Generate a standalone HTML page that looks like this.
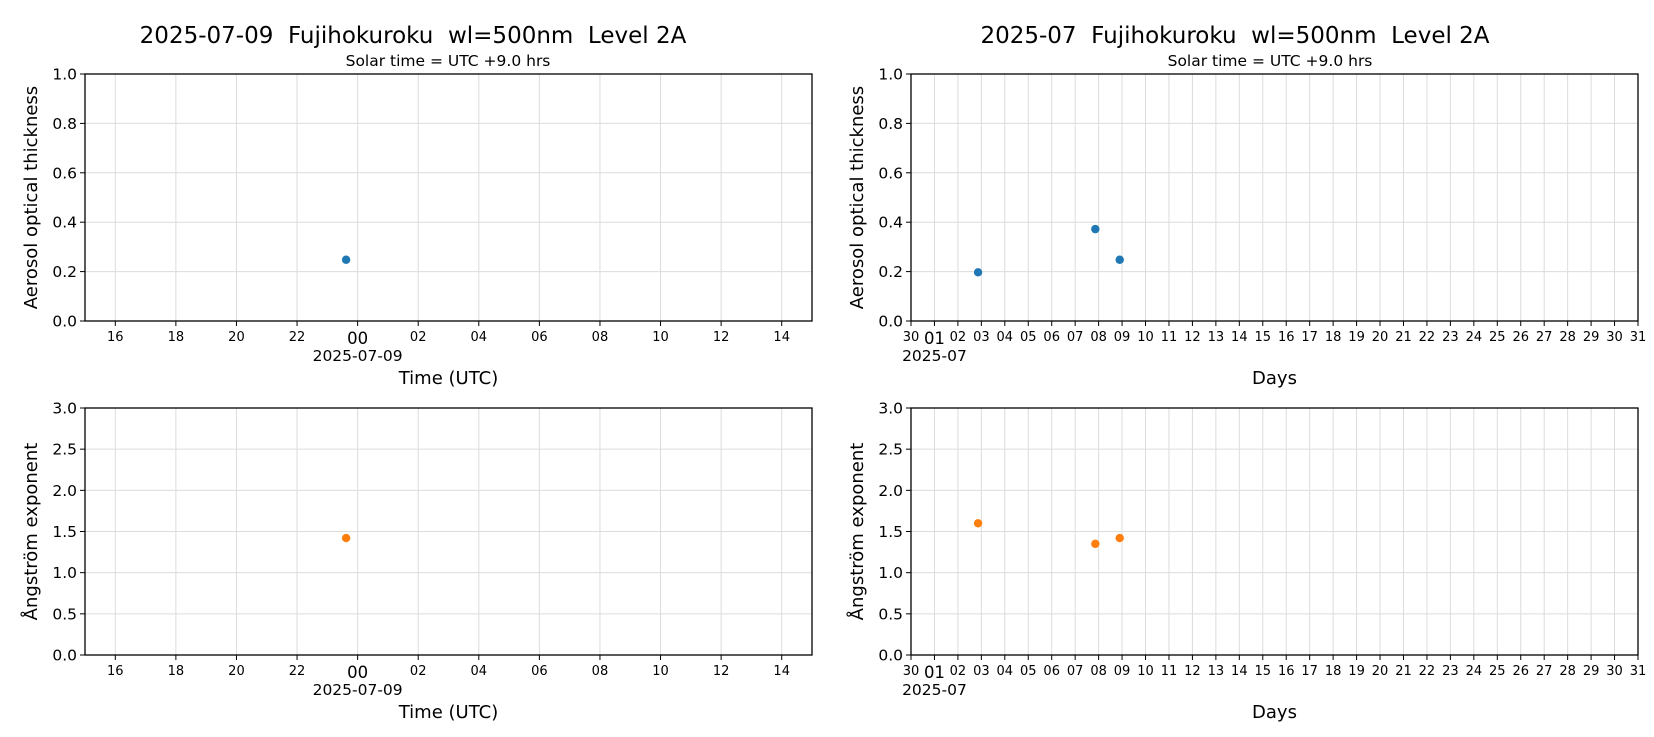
<!DOCTYPE html>
<html><head><meta charset="utf-8"><style>
body{margin:0;background:#fff}
svg{display:block;font-family:"DejaVu Sans","Liberation Sans",sans-serif}
</style></head><body>
<svg id="fig" width="1654" height="737" viewBox="0 0 1654 737"></svg>
<script>
const hourTicks = ["16","18","20","22","00","02","04","06","08","10","12","14"];
const hourTickVals = [-8,-6,-4,-2,0,2,4,6,8,10,12,14];
const dayTicks = ["30","01","02","03","04","05","06","07","08","09","10","11","12","13","14","15","16","17","18","19","20","21","22","23","24","25","26","27","28","29","30","31"];
const dailyTimes = [-0.38];
const dailyAot = [0.248];
const dailyAe = [1.42];
const monthDays = [2.86, 7.86, 8.9];
const monthAot = [0.197, 0.372, 0.248];
const monthAe = [1.60, 1.35, 1.42];
const aotTicks = ["0.0","0.2","0.4","0.6","0.8","1.0"];
const aeTicks = ["0.0","0.5","1.0","1.5","2.0","2.5","3.0"];

const NS="http://www.w3.org/2000/svg";
const svg=document.getElementById('fig');
function el(tag,attrs,parent,text){const e=document.createElementNS(NS,tag);for(const k in attrs)e.setAttribute(k,attrs[k]);if(text!==undefined)e.textContent=text;(parent||svg).appendChild(e);return e;}

function panel(o){
  const g=el('g',{});
  
  
  const sx=v=>o.x0+(v-o.xmin)/(o.xmax-o.xmin)*(o.x1-o.x0);
  const sy=v=>o.y1-(v-o.ymin)/(o.ymax-o.ymin)*(o.y1-o.y0);
  // grid
  o.xvals.forEach(v=>{const l=el('line',{x1:sx(v),x2:sx(v),y1:o.y0,y2:o.y1,stroke:'#dcdcdc','stroke-width':1},g);
    
    });
  o.yticks.forEach(t=>{const v=parseFloat(t);const l=el('line',{x1:o.x0,x2:o.x1,y1:sy(v),y2:sy(v),stroke:'#dcdcdc','stroke-width':1},g);
    
    });
  // points
  o.px.forEach((v,i)=>{const c=el('circle',{cx:sx(v),cy:sy(o.py[i]),r:4.2,fill:o.color},g);
    
    });
  const fr=el('rect',{x:o.x0,y:o.y0,width:o.x1-o.x0,height:o.y1-o.y0,fill:'none',stroke:'#000','stroke-width':1.3},g);
  
  
  // y ticks
  o.yticks.forEach(t=>{const v=parseFloat(t);const y=sy(v);
    el('line',{x1:o.x0-5,x2:o.x0,y1:y,y2:y,stroke:'#000','stroke-width':1},g);
    const tx=el('text',{x:o.x0-8,y:y+5.5,'text-anchor':'end','font-size':15.5,fill:'#000'},g,t);
    
    });
  // x ticks
  o.xvals.forEach((v,i)=>{const x=sx(v);
    el('line',{x1:x,x2:x,y1:o.y1,y2:o.y1+5,stroke:'#000','stroke-width':1},g);
    const big=(i===o.majorIdx);
    const tx=el('text',{x:x,y:o.y1+(big?23:20),'text-anchor':'middle','font-size':big?16.5:o.tickFs,fill:'#000'},g,o.xlabels[i]);
    
    
    if(big){const d=el('text',{x:x,y:o.y1+40,'text-anchor':'middle','font-size':15.5,fill:'#000'},g,o.dateLabel);
      
      }
  });
  const xt=el('text',{x:(o.x0+o.x1)/2,y:o.y1+63,'text-anchor':'middle','font-size':18,fill:'#000'},g,o.xtitle);
  
  
  const cy=(o.y0+o.y1)/2;
  const yt=el('text',{x:o.ylx,y:cy,'text-anchor':'middle','font-size':18,fill:'#000',transform:`rotate(-90 ${o.ylx} ${cy})`},g,o.ytitle);
  
  
}

const L={x0:85,x1:812}, R={x0:911,x1:1638};
const T={y0:74,y1:321}, B={y0:408,y1:655};
const dayVals=dayTicks.map((_,i)=>i);

panel({name:'daily-aot-panel',...L,...T,xmin:-9,xmax:15,ymin:0,ymax:1,xvals:hourTickVals,xlabels:hourTicks,majorIdx:4,dateLabel:'2025-07-09',tickFs:13,yticks:aotTicks,px:dailyTimes,py:dailyAot,color:'#1f77b4',xtitle:'Time (UTC)',ytitle:'Aerosol optical thickness',ylx:37});
panel({name:'daily-angstrom-panel',...L,...B,xmin:-9,xmax:15,ymin:0,ymax:3,xvals:hourTickVals,xlabels:hourTicks,majorIdx:4,dateLabel:'2025-07-09',tickFs:13,yticks:aeTicks,px:dailyTimes,py:dailyAe,color:'#ff7f0e',xtitle:'Time (UTC)',ytitle:'Ångström exponent',ylx:37});
panel({name:'monthly-aot-panel',...R,...T,xmin:0,xmax:31,ymin:0,ymax:1,xvals:dayVals,xlabels:dayTicks,majorIdx:1,dateLabel:'2025-07',tickFs:13,yticks:aotTicks,px:monthDays,py:monthAot,color:'#1f77b4',xtitle:'Days',ytitle:'Aerosol optical thickness',ylx:863});
panel({name:'monthly-angstrom-panel',...R,...B,xmin:0,xmax:31,ymin:0,ymax:3,xvals:dayVals,xlabels:dayTicks,majorIdx:1,dateLabel:'2025-07',tickFs:13,yticks:aeTicks,px:monthDays,py:monthAe,color:'#ff7f0e',xtitle:'Days',ytitle:'Ångström exponent',ylx:863});

[[413,'2025-07-09  Fujihokuroku  wl=500nm  Level 2A','left-title'],[1235,'2025-07  Fujihokuroku  wl=500nm  Level 2A','right-title']].forEach(a=>{
  const t=el('text',{x:a[0],y:43,'text-anchor':'middle','font-size':23,fill:'#000','xml:space':'preserve'},svg,a[1]);
  t.style.whiteSpace='pre';
  
  
});
[[448,'left-subtitle'],[1270,'right-subtitle']].forEach(a=>{
  const t=el('text',{x:a[0],y:66,'text-anchor':'middle','font-size':15.5,fill:'#000'},svg,'Solar time = UTC +9.0 hrs');
  
  
});
</script>
</body></html>
